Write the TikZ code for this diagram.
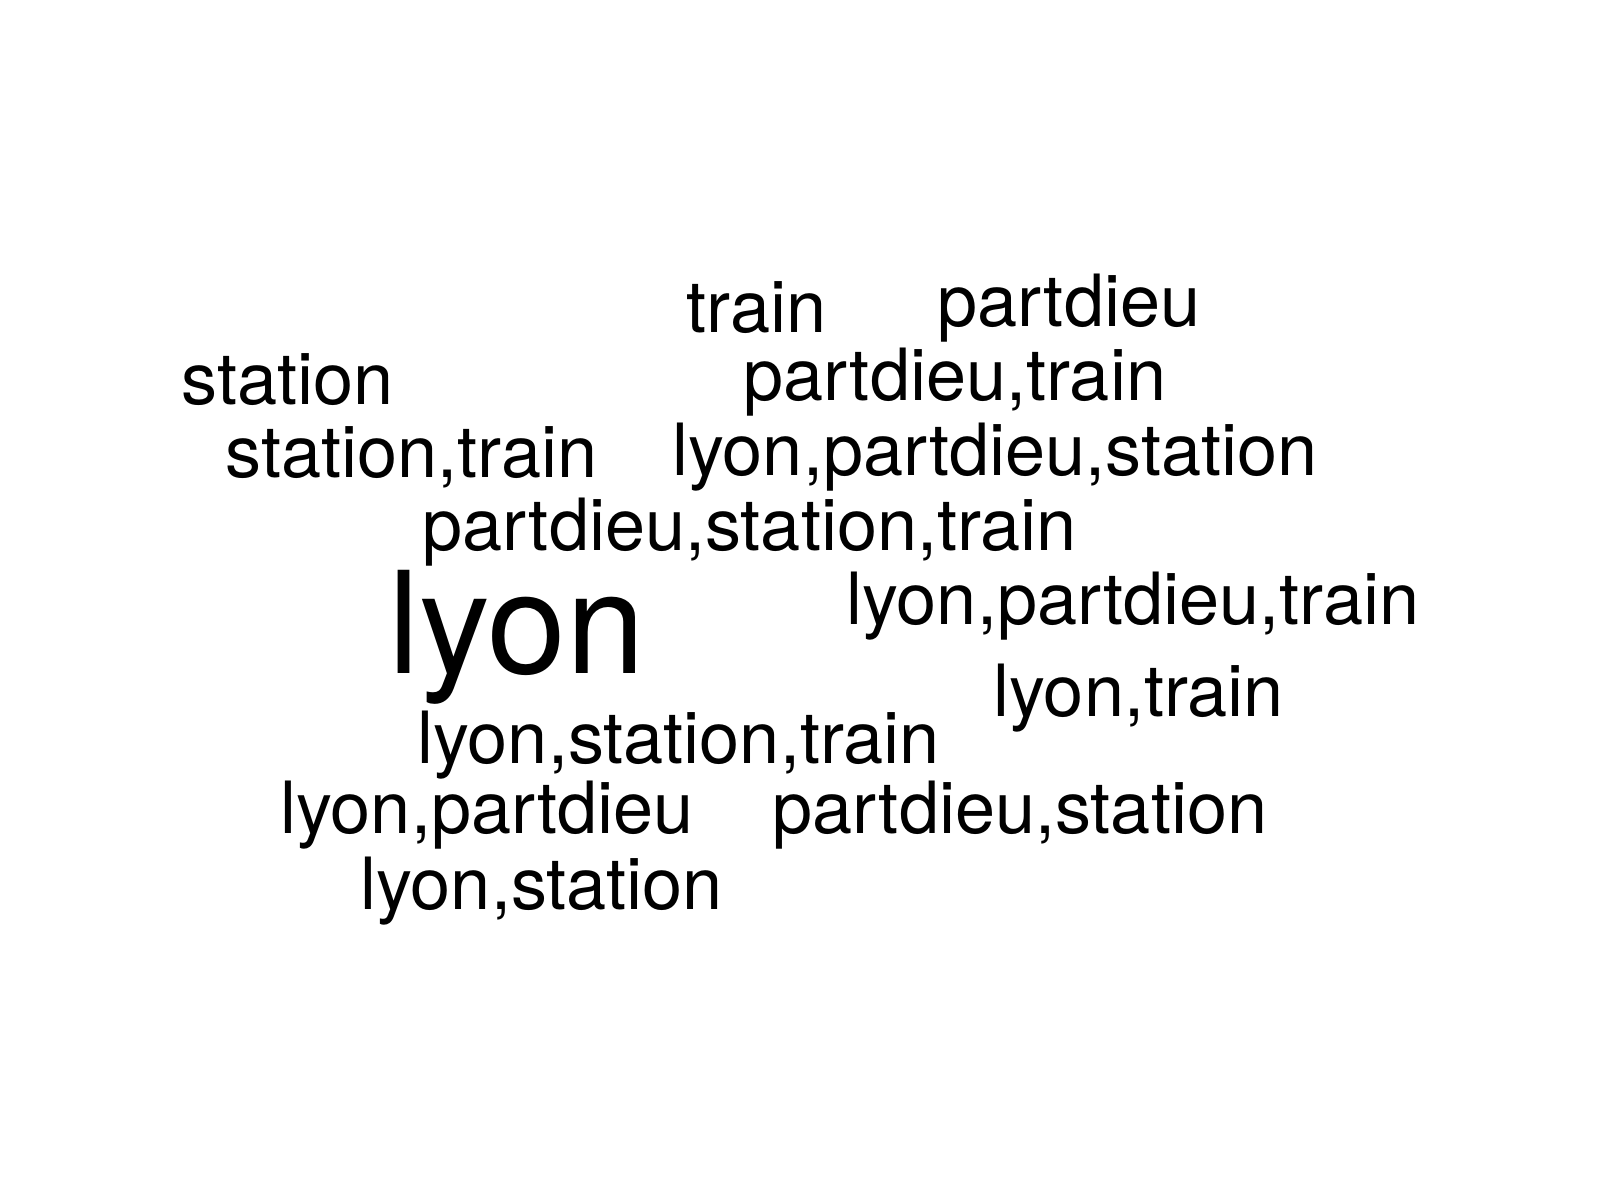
\documentclass[tikz,border=0pt]{standalone}
\usepackage{fontspec}
\setmainfont{TeX Gyre Heros}

\begin{document}
\begin{tikzpicture}[
  word/.style={anchor=base west,inner sep=0pt,font=\fontsize{20.5}{24}\selectfont},
  bigword/.style={word,font=\fontsize{40.3}{48}\selectfont}]
\useasboundingbox (0,0) rectangle (16,12);

\node[word] (train) at (6.86,8.68) {train};
\node[word] (partdieu) at (9.37,8.74) {partdieu};
\node[word] (station) at (1.81,7.96) {station};
\node[word] (partdieutrain) at (7.43,8.00) {partdieu,train};
\node[word] (stationtrain) at (2.25,7.23) {station,train};
\node[word] (lyonpartdieustation) at (6.72,7.25) {lyon,partdieu,station};
\node[word] (partdieustationtrain) at (4.22,6.50) {partdieu,station,train};
\node[bigword] (lyon) at (3.88,5.27) {lyon};
\node[word] (lyonpartdieutrain) at (8.46,5.76) {lyon,partdieu,train};
\node[word] (lyontrain) at (9.93,4.84) {lyon,train};
\node[word] (lyonstationtrain) at (4.17,4.37) {lyon,station,train};
\node[word] (lyonpartdieu) at (2.80,3.67) {lyon,partdieu};
\node[word] (partdieustation) at (7.72,3.67) {partdieu,station};
\node[word] (lyonstation) at (3.60,2.91) {lyon,station};

\end{tikzpicture}
\end{document}
